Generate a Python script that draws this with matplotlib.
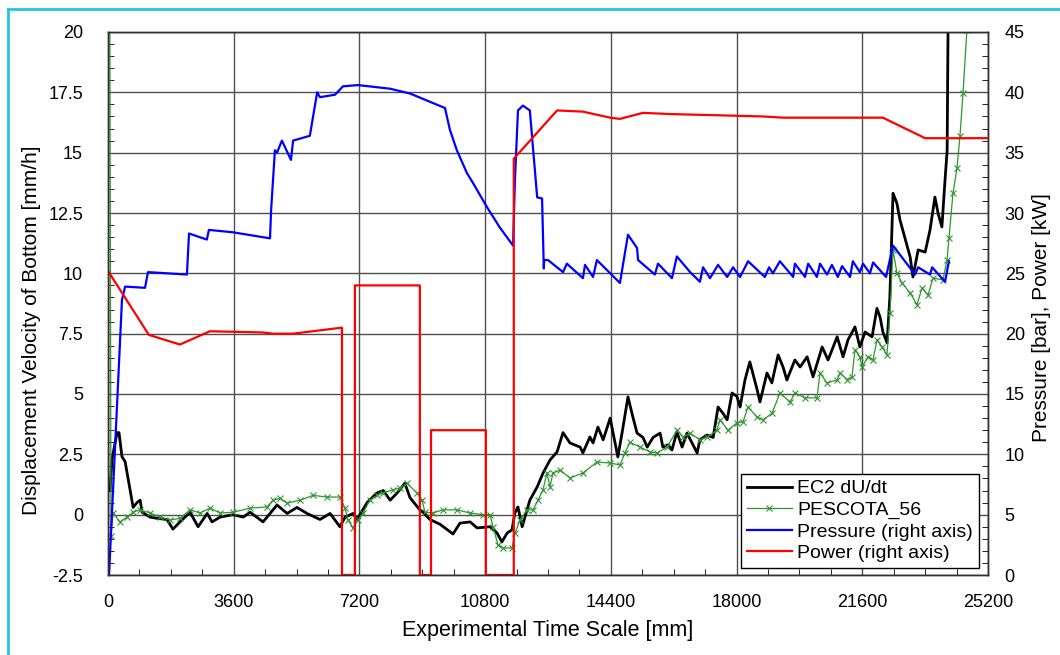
import matplotlib
matplotlib.use('Agg')
import matplotlib.pyplot as plt
from matplotlib.ticker import MultipleLocator, FuncFormatter
from matplotlib.lines import Line2D

plt.rcParams['font.family'] = ['Liberation Sans', 'DejaVu Sans']
plt.rcParams['axes.unicode_minus'] = False

# EC2 dU/dt  (left axis, mm/h)
ec2_t = [60, 115, 260, 315, 400, 490, 720, 830, 920, 975, 1200, 1400, 1690, 1860, 2060,
         2350, 2580, 2840, 2980, 3210, 3580, 3870, 4070, 4440, 4840, 5130, 5410, 5700,
         6070, 6360, 6640, 6790, 7020, 7130, 7420, 7700, 7880, 8080, 8280, 8500, 8650,
         8930, 9020, 9220, 9510, 9880, 10080, 10370, 10570, 10940, 11140, 11280, 11430,
         11570, 11650, 11740, 11860, 12000, 12080, 12290, 12460, 12660, 12860, 13030,
         13230, 13520, 13600, 13800, 13890, 14030, 14180, 14380, 14520, 14600, 14720,
         14890, 15030, 15150, 15320, 15440, 15610, 15810, 15890, 16040, 16150, 16290,
         16440, 16580, 16870, 16950, 17150, 17330, 17470, 17610, 17730, 17870, 18010,
         18100, 18240, 18380, 18590, 18670, 18870, 19010, 19190, 19330, 19440, 19670,
         19820, 20020, 20190, 20450, 20620, 20880, 21050, 21190, 21390, 21530, 21680,
         21880, 22020, 22110, 22190, 22310, 22390, 22480, 22590, 22680, 22970, 23050,
         23200, 23400, 23540, 23680, 23770, 23880, 23970, 24030, 24040, 24060]
ec2_v = [1.0, 2.3, 3.4, 3.4, 2.4, 2.2, 0.3, 0.5, 0.6, 0.1, -0.1, -0.15, -0.2, -0.6, -0.3,
         0.1, -0.5, 0.05, -0.3, -0.1, 0.0, -0.1, 0.1, -0.3, 0.4, 0.05, 0.3, 0.05,
         -0.2, 0.05, -0.5, -0.1, 0.05, -0.2, 0.5, 0.9, 1.0, 0.6, 0.9, 1.3, 0.7,
         0.2, 0.1, -0.2, -0.4, -0.8, -0.35, -0.3, -0.55, -0.5, -0.76, -1.13, -0.76,
         -0.63, 0.07, 0.32, -0.5, 0.2, 0.6, 1.15, 1.73, 2.27, 2.6, 3.4,
         2.97, 2.8, 2.56, 3.22, 2.97, 3.63, 3.1, 4.0, 2.97, 2.39, 3.38,
         4.88, 4.05, 3.38, 3.2, 2.8, 3.2, 3.38, 2.8, 2.9, 2.68, 3.43,
         2.8, 3.38, 2.56, 3.1, 3.3, 3.2, 4.46, 4.2, 3.93, 5.04, 4.9,
         4.46, 5.58, 6.33, 5.17, 4.67, 5.87, 5.46, 6.62, 6.12, 5.58, 6.41,
         6.12, 6.54, 5.71, 6.95, 6.41, 7.37, 6.54, 7.24, 7.78, 6.95, 7.57,
         7.37, 8.55, 8.18, 7.57, 7.12, 9.02, 13.32, 12.91, 12.21, 10.68, 9.85,
         10.97, 10.88, 11.8, 13.16, 12.49, 11.92, 13.87, 15.1, 17.2, 21.0]

# PESCOTA_56  (left axis, mm/h)
pes_t = [50, 86, 143, 344, 544, 716, 916, 1203, 1489, 1775, 2062, 2348, 2635, 2921, 3207,
         3580, 4066, 4553, 4725, 4925, 5126, 5498, 5870, 6271, 6644, 6787, 6873, 7016,
         7159, 7302, 7503, 7703, 7875, 8161, 8362, 8562, 8849, 8992, 9078, 9307, 9593,
         9994, 10366, 10739, 10939, 11025, 11168, 11311, 11569, 11655, 11798, 11999,
         12170, 12314, 12457, 12571, 12657, 12743, 12944, 13230, 13602, 14003, 14375,
         14662, 14805, 14948, 15235, 15521, 15721, 16008, 16294, 16466, 16666, 16952,
         17153, 17439, 17525, 17754, 18012, 18184, 18327, 18585, 18757, 19014, 19243,
         19530, 19673, 19959, 20303, 20389, 20589, 20876, 20962, 21162, 21305, 21391,
         21534, 21591, 21763, 21907, 22021, 22164, 22307, 22393, 22479, 22594, 22737,
         22966, 23166, 23310, 23482, 23625, 23911, 24025, 24083, 24197, 24312, 24398,
         24484, 24598, 24700]
pes_v = [22.0, -0.9, 0.07, -0.3, -0.1, 0.1, 0.2, 0.07, -0.1, -0.22, -0.15, 0.2, 0.07, 0.27, 0.07,
         0.1, 0.27, 0.32, 0.6, 0.68, 0.48, 0.6, 0.8, 0.73, 0.73, 0.27, -0.22, -0.55,
         -0.22, 0.07, 0.6, 0.8, 0.9, 1.03, 1.1, 1.3, 0.9, 0.6, 0.1, 0.07, 0.2,
         0.2, 0.07, 0.0, 0.0, -0.5, -1.25, -1.38, -1.38, -0.76, -0.22, 0.2,
         0.2, 0.6, 1.03, 1.73, 1.15, 1.73, 1.85, 1.52, 1.73, 2.18, 2.14,
         2.06, 2.56, 3.0, 2.8, 2.6, 2.56, 2.8, 3.5, 3.22, 3.38, 3.1,
         3.22, 3.5, 3.93, 3.5, 3.8, 3.85, 4.46, 4.05, 3.93, 4.2, 5.04,
         4.67, 5.04, 4.84, 4.84, 5.87, 5.46, 5.58, 5.87, 5.6, 5.71, 6.83,
         6.54, 6.12, 6.54, 6.41, 7.24, 6.95, 6.62, 8.35, 10.97, 10.0, 9.6,
         9.19, 8.7, 9.39, 9.1, 9.8, 9.73, 10.55, 11.46, 13.32, 14.36, 15.7,
         17.47, 20.1, 22.0]

# Pressure  (right axis, bar)
pre_t = [30, 400, 490, 1060, 1145, 2260, 2320, 2830, 2890, 3580, 4640, 4670, 4780, 4840,
         4980, 5240, 5300, 5780, 5990, 6070, 6500, 6730, 7160, 8080, 8650, 9650, 9790,
         9990, 10280, 10450, 10850, 11220, 11600, 11650, 11740, 11880, 12080, 12290,
         12430, 12480, 12490,
         12600, 13030, 13140, 13600, 13660, 13890, 14000, 14660, 14890, 15150, 15180,
         15660, 15750, 16150, 16290, 16670, 16950, 17040, 17240, 17470, 17730, 17900,
         18100, 18330, 18810, 18930, 19040, 19240, 19620, 19670, 19960, 20050, 20300,
         20390, 20590, 20730, 20900, 21020, 21250, 21330, 21530, 21620, 21820, 21910,
         22280, 22480, 23110, 23200, 23540, 23600, 23970, 24080]
pre_v = [0.0, 22.8, 23.9, 23.8, 25.1, 24.9, 28.3, 27.8, 28.6, 28.4, 27.9, 30.2, 35.2, 35.0,
         36.0, 34.4, 36.0, 36.4, 40.0, 39.6, 39.8, 40.5, 40.6, 40.3, 39.9, 38.7, 36.9,
         35.2, 33.3, 32.5, 30.5, 28.8, 27.3, 32.5, 38.5, 38.9, 38.5, 31.3,
         31.2, 25.4, 26.1,
         26.1, 25.1, 25.8, 24.6, 25.7, 24.7, 26.1, 24.2, 28.2, 27.1, 26.1,
         24.9, 25.8, 24.6, 26.4, 25.1, 24.3, 25.5, 24.6, 25.7, 24.7, 25.5,
         24.7, 26.0, 24.7, 25.5, 25.0, 26.0, 24.7, 25.8, 24.7, 25.8, 24.7,
         25.8, 24.9, 25.7, 24.7, 25.6, 24.7, 26.0, 25.1, 25.8, 25.0, 25.9,
         24.7, 27.3, 24.9, 25.5, 24.9, 25.5, 24.3, 26.0]

# Power  (right axis, kW)
pow_t = [0, 0, 1170, 2060, 2920, 4440, 4720, 5300, 6700, 6700, 7070, 7070, 8930, 8930,
         9250, 9250, 10820, 10820, 11620, 11620, 12860, 13600, 14380, 14660, 15320,
         16090, 17440, 18760, 19330, 22190, 23400, 25200]
pow_v = [0, 25.2, 19.9, 19.1, 20.2, 20.1, 20.0, 20.0, 20.5, 0, 0, 24.0, 24.0, 0,
         0, 12.0, 12.0, 0, 0, 34.5, 38.5, 38.4, 37.9, 37.8, 38.3,
         38.2, 38.1, 38.0, 37.9, 37.9, 36.2, 36.2]

fig = plt.figure(figsize=(10.6, 6.55), dpi=100)
ax = fig.add_axes([108 / 1060, 1 - 575 / 655, 880 / 1060, 543 / 655])
ax2 = ax.twinx()

l1, = ax.plot(ec2_t, ec2_v, color='black', lw=2.0, label='EC2 dU/dt')
l2, = ax.plot(pes_t, pes_v, color='#2e962e', lw=0.9, marker='x', ms=4, mew=0.8,
              label='PESCOTA_56')
l3, = ax2.plot(pre_t, pre_v, color='#0000ff', lw=1.6, label='Pressure (right axis)')
l4, = ax2.plot(pow_t, pow_v, color='#ff0000', lw=1.6, label='Power (right axis)')

ax.set_xlim(0, 25200)
ax.set_ylim(-2.5, 20)
ax2.set_ylim(0, 45)

ax.xaxis.set_major_locator(MultipleLocator(3600))
ax.xaxis.set_minor_locator(MultipleLocator(900))
ax.yaxis.set_major_locator(MultipleLocator(2.5))
ax.yaxis.set_minor_locator(MultipleLocator(0.5))
ax2.yaxis.set_major_locator(MultipleLocator(5))
ax2.yaxis.set_minor_locator(MultipleLocator(1))
ax.yaxis.set_major_formatter(FuncFormatter(lambda v, p: '%g' % v))

ax.grid(True, which='major', color='#505050', lw=1.0)
ax.set_axisbelow(True)

ax.tick_params(axis='both', which='both', direction='in', labelsize=13)
ax.tick_params(axis='both', which='major', length=0)
ax.tick_params(axis='both', which='minor', length=4)
ax.tick_params(axis='y', pad=18)
ax.tick_params(axis='x', pad=14)
ax2.tick_params(axis='y', which='both', direction='in', labelsize=13, pad=12)
ax2.tick_params(axis='y', which='major', length=0)
ax2.tick_params(axis='y', which='minor', length=4)

for a in (ax, ax2):
    for s in a.spines.values():
        s.set_color('#303030')
        s.set_linewidth(1.0)

ax.set_xlabel('Experimental Time Scale [mm]', fontsize=15.5, labelpad=6)
ax.set_ylabel('Displacement Velocity of Bottom [mm/h]', fontsize=15, labelpad=6)
ax.yaxis.set_label_coords(-0.076, 0.45)
ax2.set_ylabel('Pressure [bar], Power [kW]', fontsize=15, labelpad=6)
ax2.yaxis.set_label_coords(1.05, 0.475)

leg = ax2.legend(handles=[l1, l2, l3, l4], loc='lower right',
                 bbox_to_anchor=(1 - 9 / 880, 7 / 543), borderaxespad=0,
                 fontsize=14, fancybox=False, framealpha=1, edgecolor='black',
                 handlelength=2.3, handletextpad=0.3, labelspacing=0.2,
                 borderpad=0.3)
leg.get_frame().set_linewidth(1.0)

# cyan frame around the picture
fig.add_artist(Line2D([8 / 1060, 1.0], [1 - 9 / 655, 1 - 9 / 655],
                      transform=fig.transFigure, color='#22c4ee', lw=2))
fig.add_artist(Line2D([8 / 1060, 8 / 1060], [0, 1 - 9 / 655],
                      transform=fig.transFigure, color='#22c4ee', lw=2))

fig.savefig('out.png', dpi=100)
